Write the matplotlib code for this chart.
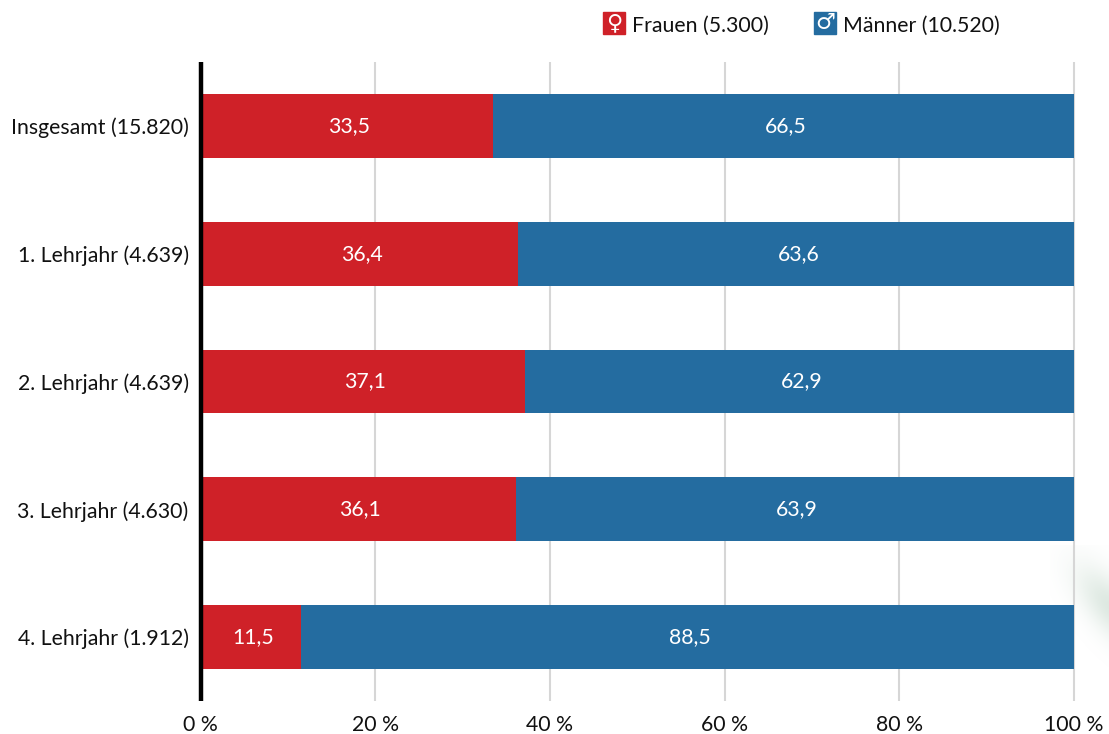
import numpy as np
import matplotlib.pyplot as plt
from matplotlib.patches import Rectangle

categories = ["Insgesamt (15.820)", "1. Lehrjahr (4.639)", "2. Lehrjahr (4.639)",
              "3. Lehrjahr (4.630)", "4. Lehrjahr (1.912)"]
frauen = [33.5, 36.4, 37.1, 36.1, 11.5]
maenner = [66.5, 63.6, 62.9, 63.9, 88.5]
ticks = [0, 20, 40, 60, 80, 100]
legend_labels = ["Frauen (5.300)", "Männer (10.520)"]

RED = "#cf2128"
BLUE = "#246ca0"
W, H = 1109, 734

plt.rcParams['font.family'] = ['Lato', 'DejaVu Sans']
plt.rcParams['font.size'] = 15.3

fig = plt.figure(figsize=(W / 100, H / 100), dpi=100)
ax = fig.add_axes([200.5 / W, 1 - 701 / H, (1074 - 200.5) / W, (701 - 62) / H])

y = np.arange(len(categories))
ax.barh(y, frauen, height=0.5, color=RED, zorder=3)
ax.barh(y, maenner, left=frauen, height=0.5, color=BLUE, zorder=3)

for i in y:
    ax.annotate(f"{frauen[i]:.1f}".replace(".", ","), (frauen[i] / 2, i), xytext=(1.5, 0),
                textcoords="offset points", color="white", ha="center", va="center", zorder=4)
    ax.annotate(f"{maenner[i]:.1f}".replace(".", ","), (frauen[i] + maenner[i] / 2, i), xytext=(1.5, 0),
                textcoords="offset points", color="white", ha="center", va="center", zorder=4)

ax.set_xlim(0, 100)
ax.set_ylim(4.5, -0.5)
ax.set_yticks(y)
ax.set_yticklabels(categories, color="#111111")
ax.set_xticks(ticks)
ax.set_xticklabels([f"{t} %" for t in ticks], color="#111111")
ax.tick_params(length=0)
ax.tick_params(axis="y", pad=8.5)
ax.tick_params(axis="x", pad=10)
ax.grid(axis="x", color="#d6d6d6", linewidth=1.5, zorder=1)
for line in ax.xaxis.get_gridlines():
    line.set_clip_on(False)
    line.set_solid_capstyle("butt")

for s in ["top", "right", "bottom"]:
    ax.spines[s].set_visible(False)
ax.spines["left"].set_linewidth(3.2)
ax.spines["left"].set_color("black")
ax.spines["left"].set_capstyle("butt")
ax.spines["left"].set_zorder(5)

# legend by hand, squares with the gender signs in them
for x0, col, sign, lab in zip([603, 814], [RED, BLUE], ["\u2640", "\u2642"], legend_labels):
    fig.add_artist(Rectangle((x0 / W, 1 - 34 / H), 22 / W, 22 / H, color=col,
                             transform=fig.transFigure))
    fig.text((x0 + 11) / W, 1 - 23 / H, sign, color="white", ha="center", va="center",
             fontsize=16, family="DejaVu Sans")
    fig.text((x0 + 29) / W, 1 - 25.5 / H, lab, color="#111111", ha="left", va="center")

# faint green smudge at the right edge
gx, gy = np.meshgrid(np.linspace(1050, 1109, 60), np.linspace(545, 734, 190))
d = (gx - 1120) * 0.75 - (gy - 615) * 0.75
a = np.exp(-(d / 26) ** 2) * np.exp(-((gx - 1115) / 45) ** 2) * np.exp(-((gy - 610) / 60) ** 2) * 0.3
img = np.zeros(gx.shape + (4,))
img[..., :3] = (0.55, 0.70, 0.60)
img[..., 3] = a
bg = fig.add_axes([1050 / W, 0, 59 / W, (734 - 545) / H], zorder=-1)
bg.imshow(img, aspect="auto")
bg.axis("off")
ax.patch.set_alpha(0)

fig.savefig("out.png", dpi=100)
